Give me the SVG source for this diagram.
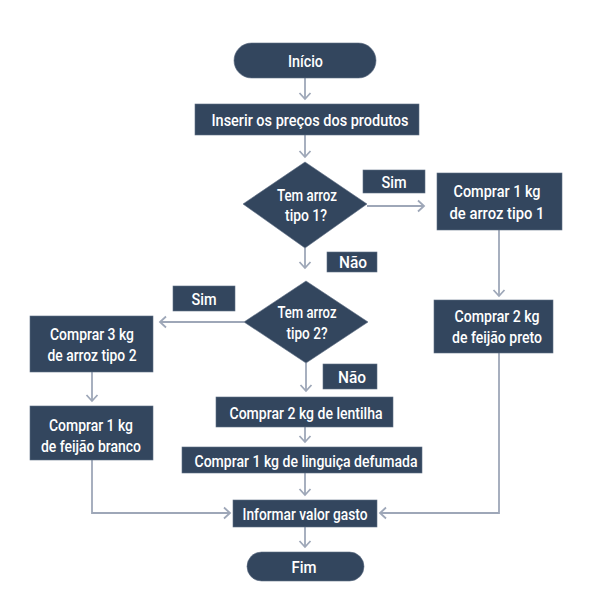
<svg xmlns="http://www.w3.org/2000/svg" width="593" height="601" viewBox="0 0 593 601">
<defs>
<style>
.n{fill:#33465e;stroke:#5f6f84;stroke-width:0.6}
.t{fill:#ffffff;font-family:Roboto,"Liberation Sans",sans-serif;font-size:17px;font-weight:500;text-anchor:middle}
.c{fill:none;stroke:#9ea7b8;stroke-width:1.8}
</style>
<marker id="ah" markerWidth="14" markerHeight="14" viewBox="-8 -7 10 14" refX="0" refY="0" markerUnits="userSpaceOnUse" orient="auto">
<path d="M-6,-5.5 L0,0 L-6,5.5" fill="none" stroke="#9ea7b8" stroke-width="1.8"/>
</marker>
</defs>
<rect width="593" height="601" fill="#ffffff"/>
<g id="connectors">
<path class="c" d="M305,78 V99" marker-end="url(#ah)"/>
<path class="c" d="M305,135 V157" marker-end="url(#ah)"/>
<path class="c" d="M367,206 H424" marker-end="url(#ah)"/>
<path class="c" d="M305,248 V268" marker-end="url(#ah)"/>
<path class="c" d="M244,322 H160" marker-end="url(#ah)"/>
<path class="c" d="M306,363 V391" marker-end="url(#ah)"/>
<path class="c" d="M499,230 V296" marker-end="url(#ah)"/>
<path class="c" d="M92,372 V401" marker-end="url(#ah)"/>
<path class="c" d="M305,427 V442" marker-end="url(#ah)"/>
<path class="c" d="M305,473 V495" marker-end="url(#ah)"/>
<path class="c" d="M92,460 V513 H230" marker-end="url(#ah)"/>
<path class="c" d="M499,353 V513 H380" marker-end="url(#ah)"/>
<path class="c" d="M305,527 V547" marker-end="url(#ah)"/>
</g>
<g id="inicio">
<rect class="n" x="234" y="43" width="142" height="35" rx="17.5"/>
<text class="t" x="305.5" y="66.5" textLength="35" lengthAdjust="spacingAndGlyphs">Início</text>
</g>
<g id="inserir">
<rect class="n" x="195" y="104" width="224" height="31"/>
<text class="t" x="310" y="126" textLength="197" lengthAdjust="spacingAndGlyphs">Inserir os preços dos produtos</text>
</g>
<g id="decisao1">
<polygon class="n" points="305,162 367,204 305,248 243,204"/>
<text class="t" x="307" y="201" textLength="60" lengthAdjust="spacingAndGlyphs">Tem arroz</text>
<text class="t" x="306" y="221" textLength="42" lengthAdjust="spacingAndGlyphs">tipo 1?</text>
</g>
<g id="sim1">
<rect class="n" x="363" y="170" width="62" height="23"/>
<text class="t" x="394" y="188" textLength="25" lengthAdjust="spacingAndGlyphs">Sim</text>
</g>
<g id="arroz1">
<rect class="n" x="437" y="173" width="125" height="57"/>
<text class="t" x="497" y="197" textLength="87" lengthAdjust="spacingAndGlyphs">Comprar 1 kg</text>
<text class="t" x="497" y="219" textLength="95" lengthAdjust="spacingAndGlyphs">de arroz tipo 1</text>
</g>
<g id="nao1">
<rect class="n" x="327" y="252" width="50" height="20"/>
<text class="t" x="353" y="268" textLength="28" lengthAdjust="spacingAndGlyphs">Não</text>
</g>
<g id="decisao2">
<polygon class="n" points="306,281 368,322 306,363 244,322"/>
<text class="t" x="307" y="318" textLength="59" lengthAdjust="spacingAndGlyphs">Tem arroz</text>
<text class="t" x="307" y="339" textLength="41" lengthAdjust="spacingAndGlyphs">tipo 2?</text>
</g>
<g id="sim2">
<rect class="n" x="173" y="286" width="62" height="25"/>
<text class="t" x="204" y="305" textLength="25" lengthAdjust="spacingAndGlyphs">Sim</text>
</g>
<g id="arroz2">
<rect class="n" x="30" y="316" width="123" height="56"/>
<text class="t" x="92" y="340" textLength="84" lengthAdjust="spacingAndGlyphs">Comprar 3 kg</text>
<text class="t" x="92" y="361" textLength="89" lengthAdjust="spacingAndGlyphs">de arroz tipo 2</text>
</g>
<g id="nao2">
<rect class="n" x="323" y="364" width="54" height="25"/>
<text class="t" x="352" y="382.5" textLength="28" lengthAdjust="spacingAndGlyphs">Não</text>
</g>
<g id="feijaopreto">
<rect class="n" x="434" y="300" width="119" height="53"/>
<text class="t" x="497" y="322" textLength="85" lengthAdjust="spacingAndGlyphs">Comprar 2 kg</text>
<text class="t" x="497" y="343" textLength="90" lengthAdjust="spacingAndGlyphs">de feijão preto</text>
</g>
<g id="feijaobranco">
<rect class="n" x="30" y="406" width="123" height="54"/>
<text class="t" x="91" y="431" textLength="84" lengthAdjust="spacingAndGlyphs">Comprar 1 kg</text>
<text class="t" x="91" y="452" textLength="100" lengthAdjust="spacingAndGlyphs">de feijão branco</text>
</g>
<g id="lentilha">
<rect class="n" x="216" y="397" width="177" height="30"/>
<text class="t" x="306" y="418.5" textLength="153" lengthAdjust="spacingAndGlyphs">Comprar 2 kg de lentilha</text>
</g>
<g id="linguica">
<rect class="n" x="182" y="447" width="240" height="26"/>
<text class="t" x="306" y="466.5" textLength="223" lengthAdjust="spacingAndGlyphs">Comprar 1 kg de linguiça defumada</text>
</g>
<g id="informar">
<rect class="n" x="233" y="500" width="144" height="27"/>
<text class="t" x="305" y="520" textLength="125" lengthAdjust="spacingAndGlyphs">Informar valor gasto</text>
</g>
<g id="fim">
<rect class="n" x="247" y="552" width="117" height="29" rx="14.5"/>
<text class="t" x="304" y="573" textLength="25" lengthAdjust="spacingAndGlyphs">Fim</text>
</g>
</svg>
